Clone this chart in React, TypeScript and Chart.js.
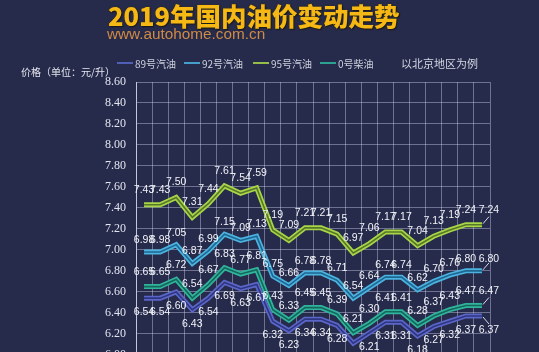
import React, { useEffect, useRef } from "react";
import { Chart, registerables } from "chart.js";

Chart.register(...registerables);

const categories = ["1", "2", "3", "4", "5", "6", "7", "8", "9", "10", "11", "12", "13", "14", "15", "16", "17", "18", "19", "20", "21", "22"];
const price89 = [6.54, 6.54, 6.60, 6.43, 6.54, 6.69, 6.63, 6.67, 6.32, 6.23, 6.34, 6.34, 6.28, 6.11, 6.21, 6.31, 6.31, 6.18, 6.27, 6.32, 6.37, 6.37];
const price92 = [6.98, 6.98, 7.05, 6.87, 6.99, 7.15, 7.09, 7.13, 6.75, 6.66, 6.78, 6.78, 6.71, 6.54, 6.64, 6.74, 6.74, 6.62, 6.70, 6.76, 6.80, 6.80];
const price95 = [7.43, 7.43, 7.50, 7.31, 7.44, 7.61, 7.54, 7.59, 7.19, 7.09, 7.21, 7.21, 7.15, 6.97, 7.06, 7.17, 7.17, 7.04, 7.13, 7.19, 7.24, 7.24];
const diesel0 = [6.65, 6.65, 6.72, 6.54, 6.67, 6.83, 6.77, 6.81, 6.43, 6.33, 6.45, 6.45, 6.39, 6.21, 6.30, 6.41, 6.41, 6.28, 6.37, 6.43, 6.47, 6.47];
const seriesNames = ["89号汽油", "92号汽油", "95号汽油", "0号柴油"];
const yMin = 6.0;
const yMax = 8.6;
const yStep = 0.2;

const TITLE = "2019年国内油价变动走势";
const SUBTITLE = "www.autohome.com.cn";
const Y_LABEL = "价格（单位：元/升）";
const NOTE = "以北京地区为例";

type Series = { name: string; data: number[]; light: string; dark: string; below: boolean; off: number };

const series: Series[] = [
  { name: seriesNames[0], data: price89, light: "#5b66c8", dark: "#2e3680", below: true, off: 14 },
  { name: seriesNames[1], data: price92, light: "#4ab3df", dark: "#1f6690", below: false, off: 12 },
  { name: seriesNames[2], data: price95, light: "#a8d646", dark: "#58762a", below: false, off: 15 },
  { name: seriesNames[3], data: diesel0, light: "#30b59d", dark: "#15665c", below: false, off: 14 },
];

const BG = "#262a4b";

const valueLabels = {
  id: "valueLabels",
  afterDatasetsDraw(chart: any) {
    const ctx = chart.ctx;
    ctx.save();
    ctx.font = '10.5px "Liberation Sans", Arial, sans-serif';
    ctx.textAlign = "center";
    ctx.textBaseline = "middle";
    series.forEach((s, si) => {
      const meta = chart.getDatasetMeta(series.length + si);
      const n = meta.data.length;
      meta.data.forEach((pt: any, i: number) => {
        const dir = s.below ? 1 : -1;
        let x = pt.x;
        const y = pt.y + dir * s.off;
        if (i === n - 1) {
          ctx.strokeStyle = "#d8dce8";
          ctx.lineWidth = 1;
          ctx.beginPath();
          ctx.moveTo(pt.x + 1, pt.y + dir * 1);
          ctx.lineTo(pt.x + 7, pt.y + dir * 8);
          ctx.stroke();
          x += 7;
        }
        ctx.fillStyle = "#f2f3f8";
        ctx.fillText(s.data[i].toFixed(2), x, y);
      });
    });
    ctx.restore();
  },
};

export default function App() {
  const ref = useRef<HTMLCanvasElement | null>(null);

  useEffect(() => {
    document.body.style.margin = "0";
    document.body.style.background = BG;
    if (!ref.current) return;
    const inner = series.map((s) => ({
      label: s.name + "_inner",
      data: s.data,
      borderColor: s.dark,
      borderWidth: 1.6,
      pointRadius: 0,
      tension: 0,
      fill: false,
    }));
    const outer = series.map((s) => ({
      label: s.name,
      data: s.data,
      borderColor: s.light,
      borderWidth: 5,
      pointRadius: 0,
      tension: 0,
      fill: false,
    }));
    const chart = new Chart(ref.current, {
      type: "line",
      data: { labels: categories, datasets: [...inner, ...outer] as any },
      options: {
        animation: false,
        responsive: false,
        devicePixelRatio: 1,
        layout: { padding: { top: 82, left: 90, right: 49, bottom: 11 } },
        plugins: { legend: { display: false }, tooltip: { enabled: false }, title: { display: false } },
        scales: {
          x: {
            type: "category",
            offset: true,
            grid: { offset: true, color: "rgba(210,215,240,0.42)", lineWidth: 1, drawTicks: false },
            border: { display: false },
            ticks: { display: false },
          },
          y: {
            min: yMin,
            max: yMax,
            afterFit: (scale: any) => {
              scale.width = 46;
            },
            grid: { color: "rgba(210,215,240,0.42)", lineWidth: 1, drawTicks: false },
            border: { display: true, color: "rgba(225,228,245,0.75)", width: 1 },
            ticks: {
              stepSize: yStep,
              padding: 10,
              color: "#e2e4ee",
              font: { family: '"Liberation Serif", "Times New Roman", serif', size: 12 },
              callback: (v: any) => Number(v).toFixed(2),
            },
          },
        },
      },
      plugins: [valueLabels],
    });
    return () => chart.destroy();
  }, []);

  const legendX = [117, 184, 253, 320];

  return (
    <div style={{ position: "fixed", left: 0, top: 0, width: 539, height: 352, overflow: "hidden", background: BG }}>
      <canvas ref={ref} width={539} height={372} style={{ position: "absolute", left: 0, top: 0, width: 539, height: 372 }} />
      <div
        style={{
          position: "absolute",
          left: 108,
          top: 1,
          fontFamily: '"Noto Sans CJK SC", sans-serif',
          fontWeight: 900,
          fontSize: 25.5,
          lineHeight: "28px",
          color: "#f6b814",
          textShadow: "1px 1px 1px #1a1a1a, 0 0 2px #3a3000",
          whiteSpace: "nowrap",
        }}
      >
        {TITLE}
      </div>
      <div
        style={{
          position: "absolute",
          left: 107,
          top: 25,
          fontFamily: '"Liberation Sans", Arial, sans-serif',
          fontSize: 15.3,
          lineHeight: "18px",
          color: "#cf8b46",
          whiteSpace: "nowrap",
        }}
      >
        {SUBTITLE}
      </div>
      <div
        style={{
          position: "absolute",
          left: 21,
          top: 65,
          fontFamily: '"Noto Sans CJK SC", sans-serif',
          fontSize: 10,
          lineHeight: "14px",
          color: "#e4e6ee",
          whiteSpace: "nowrap",
        }}
      >
        {Y_LABEL}
      </div>
      {series.map((s, i) => (
        <div
          key={s.name}
          style={{
            position: "absolute",
            left: legendX[i],
            top: 56,
            height: 14,
            display: "flex",
            alignItems: "center",
            fontFamily: '"Noto Sans CJK SC", sans-serif',
            fontSize: 10,
            color: "#cdd0dc",
            whiteSpace: "nowrap",
          }}
        >
          <span style={{ display: "inline-block", width: 16, height: 2, background: s.light, marginRight: 2, opacity: 0.85 }} />
          {s.name}
        </div>
      ))}
      <div
        style={{
          position: "absolute",
          left: 401,
          top: 55,
          fontFamily: '"Noto Sans CJK SC", sans-serif',
          fontSize: 11,
          lineHeight: "16px",
          color: "#d4d7e2",
          whiteSpace: "nowrap",
        }}
      >
        {NOTE}
      </div>
    </div>
  );
}
